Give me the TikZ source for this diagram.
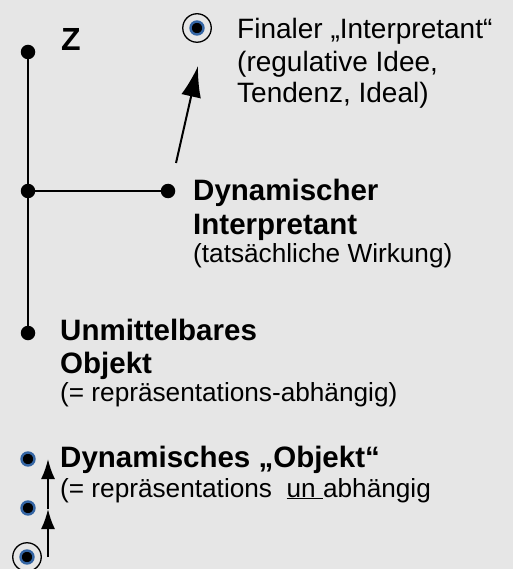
\documentclass[tikz,border=0pt]{standalone}
\usepackage{fontspec}
\setmainfont{Liberation Sans}
\usetikzlibrary{arrows.meta}
\definecolor{bg}{RGB}{230,230,230}
\definecolor{dotblue}{RGB}{52,101,164}
\begin{document}
\begin{tikzpicture}[x=1pt,y=-1pt,
  dotb/.style={circle,fill=black,inner sep=0pt,minimum size=14.5pt},
  bluedot/.style={circle,fill=black,draw=dotblue,line width=2.4pt,inner sep=0pt,minimum size=13pt},
  ringo/.style={circle,draw=black,line width=1.3pt,inner sep=0pt,minimum size=28.5pt},
  conn/.style={line width=2pt},
  arr/.style={line width=2pt,-{Latex[length=31pt,width=20pt]}},
  sarr/.style={line width=2pt,-{Latex[length=20pt,width=14pt]}},
  boldtxt/.style={anchor=base west,inner sep=0pt,font=\fontsize{29.5}{34}\selectfont\bfseries},
  regtxt/.style={anchor=base west,inner sep=0pt,font=\fontsize{26.2}{30}\selectfont},
  fintxt/.style={anchor=base west,inner sep=0pt,font=\fontsize{28}{32}\selectfont},
]
\fill[bg] (0,0) rectangle (513,569);
\useasboundingbox (0,0) rectangle (513,569);

% dots
\node[dotb] (zdot) at (28,52) {};
\node[dotb] (jdot) at (28,191) {};
\node[dotb] (udot) at (28,333) {};
\node[dotb] (dyni) at (168,191) {};

% final interpretant icon
\node[ringo] (fring) at (197,28) {};
\node[bluedot] (fdot) at (197,28) {};

% bottom icons
\node[bluedot] (bdot1) at (28,459) {};
\node[bluedot] (bdot2) at (28,508) {};
\node[ringo] (bring) at (27,557) {};
\node[bluedot] (bdot3) at (27,557) {};

% connectors
\draw[conn] (zdot.center) -- (jdot.center) -- (udot.center);
\draw[conn] (jdot.center) -- (dyni.center);

\coordinate (atail) at (176,163);
\coordinate (ahead) at (198,66);
\draw[arr] (atail) -- (ahead);

\coordinate (b0) at (48,557);
\coordinate (b1) at (48,509);
\coordinate (b2) at (48,459);
\draw[sarr] (b0) -- (b1);
\draw[sarr] (b1) -- (b2);

% texts
\node[anchor=base west,inner sep=0pt,font=\fontsize{32}{36}\selectfont\bfseries] (ztxt) at (61,50.5) {Z};

\node[fintxt] (f1) at (237,39) {Finaler „Interpretant“};
\node[fintxt] (f2) at (237,71.5) {(regulative Idee,};
\node[fintxt] (f3) at (237,103) {Tendenz, Ideal)};

\node[boldtxt] (d1) at (193,200.5) {Dynamischer};
\node[boldtxt] (d2) at (193,234) {Interpretant};
\node[regtxt] (d3) at (193,262.5) {(tatsächliche Wirkung)};

\node[boldtxt] (u1) at (60,340) {Unmittelbares};
\node[boldtxt] (u2) at (60,373.5) {Objekt};
\node[regtxt] (u3) at (60,401.5) {(= repräsentations-abhängig)};

\node[boldtxt] (o1) at (60,467) {Dynamisches „Objekt“};
\node[regtxt] (o2) at (60,497) {(= repräsentations\ \ \underline{un\ }abhängig};
\end{tikzpicture}
\end{document}
